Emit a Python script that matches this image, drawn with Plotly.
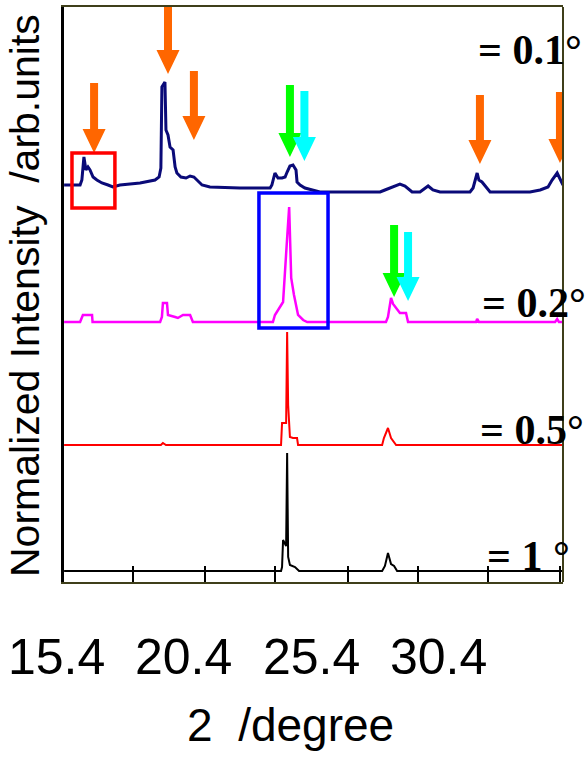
import plotly.graph_objects as go

# ---------------- data (2theta in degree, normalized intensity above each baseline) ----------------
blue_x = [15.68, 16.31, 16.38, 16.46, 16.54, 16.62, 16.70, 16.82, 16.97, 17.17, 17.41, 17.60, 17.88,
          18.67, 19.26, 19.42, 19.49, 19.53, 19.65, 19.69, 19.77, 19.85, 19.97, 20.05, 20.12, 20.28,
          20.48, 20.64, 20.79, 20.91, 21.11, 21.42, 22.60, 23.79, 23.86, 23.98, 24.10, 24.26, 24.38,
          24.46, 24.57, 24.69, 24.81, 24.85, 24.97, 25.16, 25.75, 26.94, 28.12, 28.31, 28.59, 28.90,
          29.10, 29.38, 29.69, 30.01, 30.20, 30.48, 31.66, 31.78, 31.94, 32.01, 32.13, 32.29, 32.45,
          34.02, 34.42, 34.73, 34.89, 35.09, 35.20, 35.32]
blue_y = [0.07, 0.07, 0.12, 0.35, 0.22, 0.25, 0.22, 0.15, 0.12, 0.09, 0.07, 0.05, 0.07,
          0.09, 0.12, 0.15, 0.24, 1.05, 1.10, 0.62, 0.57, 0.45, 0.42, 0.25, 0.19, 0.15,
          0.14, 0.16, 0.15, 0.12, 0.07, 0.05, 0.04, 0.04, 0.07, 0.19, 0.14, 0.14, 0.15,
          0.20, 0.26, 0.27, 0.22, 0.10, 0.07, 0.04, 0.00, 0.00, 0.00, 0.02, 0.05, 0.08,
          0.06, 0.00, 0.00, 0.06, 0.02, 0.00, 0.00, 0.04, 0.19, 0.12, 0.10, 0.05, 0.00,
          0.00, 0.02, 0.05, 0.12, 0.19, 0.14, 0.07]

pink_x = [15.68, 16.31, 16.42, 16.78, 16.80, 19.46, 19.53, 19.57, 19.73, 19.77, 20.05, 20.16,
          20.36, 20.64, 20.75, 23.90, 23.98, 24.30, 24.46, 24.54, 24.62, 24.73, 24.89, 25.09,
          25.25, 28.35, 28.43, 28.55, 28.63, 28.75, 28.90, 29.14, 29.22, 31.90, 31.94, 32.01,
          35.01, 35.09, 35.16, 35.32]
pink_y = [0.00, 0.00, 0.07, 0.07, 0.00, 0.00, 0.05, 0.19, 0.19, 0.07, 0.05, 0.04,
          0.07, 0.07, 0.00, 0.00, 0.07, 0.20, 0.84, 1.15, 0.44, 0.27, 0.07, 0.02,
          0.00, 0.00, 0.05, 0.24, 0.18, 0.14, 0.09, 0.09, 0.00, 0.00, 0.03, 0.00,
          0.00, 0.03, 0.00, 0.00]

red_x = [15.68, 19.49, 19.57, 19.69, 24.22, 24.26, 24.42, 24.46, 24.50, 24.57, 24.69, 24.85,
         24.89, 28.20, 28.27, 28.43, 28.55, 28.67, 28.75, 35.32]
red_y = [0.00, 0.00, 0.02, 0.00, 0.00, 0.22, 0.22, 1.13, 0.40, 0.08, 0.07, 0.07,
         0.00, 0.00, 0.07, 0.17, 0.07, 0.03, 0.00, 0.00]

black_x = [15.68, 24.22, 24.26, 24.30, 24.42, 24.46, 24.50, 24.57, 24.77, 24.93, 28.20, 28.31,
           28.43, 28.55, 28.67, 28.79, 35.32]
black_y = [0.00, 0.00, 0.04, 0.31, 0.25, 1.18, 0.14, 0.06, 0.04, 0.00, 0.00, 0.05,
           0.18, 0.07, 0.05, 0.00, 0.00]

series_names = ["0.1", "0.2", "0.5", "1"]
series_offsets = [3.90, 2.60, 1.37, 0.11]
series_colors = ["#0a0a78", "#ff00ff", "#ff0000", "#000000"]
series_widths = [3, 2.5, 2, 2]
series_labels = ["= 0.1\u00b0", "= 0.2\u00b0", "= 0.5\u00b0", "= 1 \u00b0"]

# arrows: position (2theta), tip height, top height, colour
arrow_x = [16.86, 19.77, 20.79, 24.57, 25.14, 32.05, 35.20, 28.67, 29.22]
arrow_tip = [4.29, 5.08, 4.42, 4.25, 4.21, 4.18, 4.19, 2.85, 2.81]
arrow_top = [4.99, 5.79, 5.11, 4.97, 4.91, 4.87, 4.90, 3.57, 3.50]
arrow_col = ["#ff6600", "#ff6600", "#ff6600", "#00ff00", "#00ffff", "#ff6600", "#ff6600",
             "#00ff00", "#00ffff"]

# highlight boxes
box_x0 = [15.99, 23.35]
box_x1 = [17.68, 26.07]
box_y0 = [3.74, 2.54]
box_y1 = [4.29, 3.89]
box_col = ["#ff0000", "#0000ff"]

tick_vals = [18.39, 21.23, 23.98, 26.86, 29.61, 32.37, 35.20]
label_vals = [15.4, 20.4, 25.4, 30.4]
label_text = ["15.4", "20.4", "25.4", "30.4"]

# ---------------- figure ----------------
W, H = 585, 768
PX_L, PX_R, PX_T, PX_B = 64, 563, 7, 582
XR = [15.676, 35.32]
YR = [0.0, 5.75]
deg_per_px = (XR[1] - XR[0]) / (PX_R - PX_L)
y_per_px = (YR[1] - YR[0]) / (PX_B - PX_T)


def x_to_paper(v):
    return (PX_L + (v - XR[0]) / deg_per_px) / W


fig = go.Figure()
all_x = [blue_x, pink_x, red_x, black_x]
all_y = [blue_y, pink_y, red_y, black_y]
for xs, ys, off, col, w, nm in zip(all_x, all_y, series_offsets, series_colors, series_widths, series_names):
    fig.add_trace(go.Scatter(x=xs, y=[v + off for v in ys], mode="lines",
                             line=dict(color=col, width=w), name=nm, hoverinfo="skip"))

shapes = []
sw = 4 * deg_per_px
hw = 11.5 * deg_per_px
hl = 24 * y_per_px
for ax, tip, top, col in zip(arrow_x, arrow_tip, arrow_top, arrow_col):
    hb = tip + hl
    path = (f"M {ax - sw},{top} L {ax + sw},{top} L {ax + sw},{hb} L {ax + hw},{hb} "
            f"L {ax},{tip} L {ax - hw},{hb} L {ax - sw},{hb} Z")
    shapes.append(dict(type="path", path=path, xref="x", yref="y", fillcolor=col,
                       line=dict(width=0), layer="above"))
for x0, x1, y0, y1, col in zip(box_x0, box_x1, box_y0, box_y1, box_col):
    shapes.append(dict(type="rect", x0=x0, x1=x1, y0=y0, y1=y1, xref="x", yref="y",
                       line=dict(color=col, width=3.5), fillcolor="rgba(0,0,0,0)", layer="above"))
olive = "#3f3f1a"
# right frame edge (olive like the top edge)
shapes.append(dict(type="line", xref="paper", yref="paper", x0=PX_R / W, x1=PX_R / W,
                   y0=1 - PX_B / H, y1=1 - PX_T / H, line=dict(color=olive, width=2)))

annotations = []
label_px = [(476, 50), (480, 303), (478, 430), (485, 556)]
for (lx, ly), txt in zip(label_px, series_labels):
    annotations.append(dict(text=f"<b>{txt}</b>", x=lx / W, y=1 - ly / H, xref="paper", yref="paper",
                            xanchor="left", yanchor="middle", showarrow=False,
                            font=dict(family="Liberation Serif, Times New Roman, serif", size=42,
                                      color="black")))
# x tick labels (placed at their 2theta values)
for v, t in zip(label_vals, label_text):
    annotations.append(dict(text=t, x=x_to_paper(v), y=1 - 657 / H, xref="paper", yref="paper",
                            xanchor="center", yanchor="middle", showarrow=False,
                            font=dict(family="Liberation Sans, Arial", size=50, color="black")))
# axis titles
annotations.append(dict(text="2\u00a0\u00a0/degree", x=290 / W, y=1 - 725 / H, xref="paper", yref="paper",
                        xanchor="center", yanchor="middle", showarrow=False,
                        font=dict(family="Liberation Sans, Arial", size=46, color="black")))
annotations.append(dict(text="Normalized Intensity\u00a0\u00a0/arb.units", textangle=-90,
                        x=25 / W, y=1 - 296 / H, xref="paper", yref="paper",
                        xanchor="center", yanchor="middle", showarrow=False,
                        font=dict(family="Liberation Sans, Arial", size=41, color="black")))

fig.update_layout(
    width=W, height=H, margin=dict(l=0, r=0, t=0, b=0),
    paper_bgcolor="white", plot_bgcolor="white", showlegend=False,
    xaxis=dict(domain=[PX_L / W, PX_R / W], range=XR, showline=True, linecolor=olive, linewidth=2,
               mirror=True, ticks="inside", ticklen=16, tickwidth=2, tickcolor="black",
               tickvals=tick_vals, showticklabels=False, showgrid=False, zeroline=False),
    yaxis=dict(domain=[1 - PX_B / H, 1 - PX_T / H], range=YR, showline=True, linecolor="black",
               linewidth=3, showticklabels=False, ticks="", showgrid=False, zeroline=False),
    shapes=shapes, annotations=annotations,
)

fig.write_html("out.html")
